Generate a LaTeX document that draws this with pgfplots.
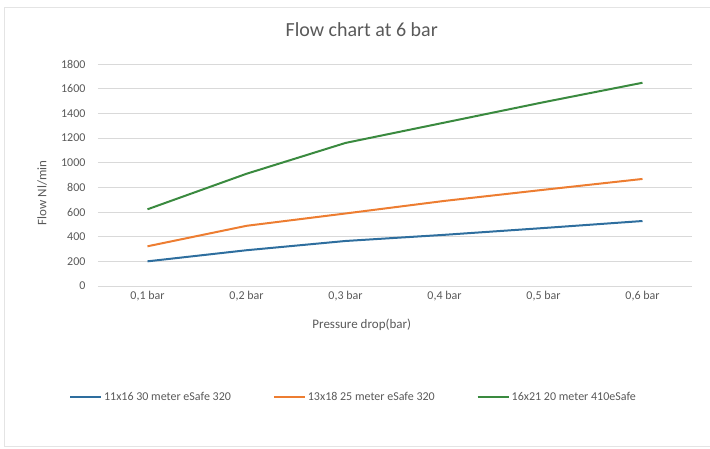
\documentclass[border=0pt]{standalone}
\usepackage{fontspec}
\setmainfont{Carlito}
\usepackage{pgfplots}
\pgfplotsset{compat=1.18}
\definecolor{txt}{HTML}{595959}
\definecolor{gridc}{HTML}{D9D9D9}
\definecolor{sblue}{HTML}{2E6E9E}
\definecolor{sorange}{HTML}{ED7D31}
\definecolor{sgreen}{HTML}{3A8A3F}
\begin{document}
\begin{tikzpicture}
\useasboundingbox (0,0) rectangle (710pt,448pt);
\draw[gridc!70, line width=0.8pt] (4pt,2pt) -- (4pt,441pt) -- (710pt,441pt);
\draw[gridc!70, line width=0.8pt] (4pt,2pt) -- (710pt,2pt);
\begin{axis}[
  at={(98pt,162pt)}, anchor=south west,
  scale only axis, width=594pt, height=222pt,
  xmin=-0.5, xmax=5.5, ymin=0, ymax=1800,
  xtick={0,...,5},
  xticklabels={{0,1 bar},{0,2 bar},{0,3 bar},{0,4 bar},{0,5 bar},{0,6 bar}},
  ytick distance=200,
  ymajorgrids, xmajorgrids=false,
  major grid style={draw=gridc, line width=1pt},
  axis line style={draw=none}, major tick style={draw=none},
  /pgf/number format/assume math mode=true,
  /pgf/number format/1000 sep={},
  tick label style={font=\fontsize{12}{14}\selectfont, text=txt},
  yticklabel style={xshift=-9pt},
  xticklabel style={yshift=-2pt},
  title={Flow chart at 6 bar},
  title style={at={(axis description cs:0.444,1.13)}, anchor=center,
    font=\fontsize{20}{24}\selectfont, text=txt},
  xlabel={Pressure drop(bar)},
  xlabel style={at={(axis description cs:0.444,-0.175)}, anchor=center,
    font=\fontsize{13}{15}\selectfont, text=txt},
  ylabel={Flow Nl/min},
  ylabel style={at={(axis description cs:-0.094,0.419)}, anchor=center,
    font=\fontsize{13}{15}\selectfont, text=txt},
  legend columns=3,
  legend style={at={(axis description cs:-0.049,-0.5)}, anchor=west,
    draw=none, fill=none, inner sep=0pt,
    font=\fontsize{12}{14}\selectfont, text=txt,
    /tikz/every even column/.append style={column sep=40pt}},
  legend image code/.code={\draw[#1, line width=2pt] (0pt,0pt) -- (31pt,0pt);},
  every axis plot/.append style={line width=2pt, mark=none},
]
\addplot[sblue] coordinates {(0,200) (1,290) (2,365) (3,415) (4,470) (5,527)};
\addplot[sorange] coordinates {(0,322) (1,488) (2,588) (3,690) (4,780) (5,868)};
\addplot[sgreen] coordinates {(0,622) (1,910) (2,1160) (3,1325) (4,1490) (5,1648)};
\legend{11x16 30 meter eSafe 320, 13x18 25 meter eSafe 320, 16x21 20 meter 410eSafe}
\end{axis}
\end{tikzpicture}
\end{document}
